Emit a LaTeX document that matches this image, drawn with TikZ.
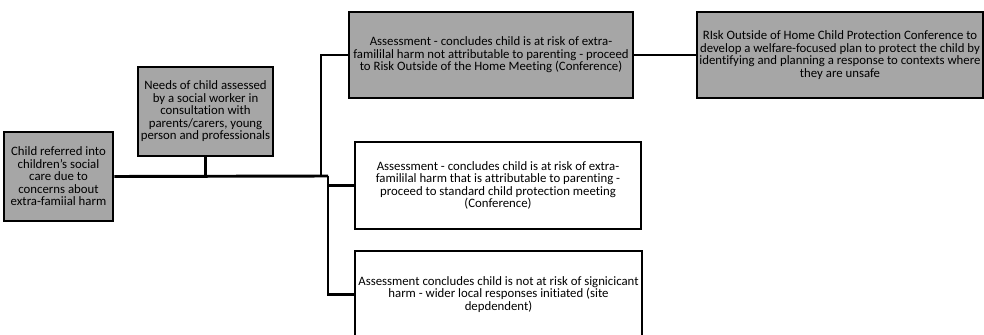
\documentclass[tikz,border=0pt]{standalone}
\usepackage{fontspec}
\setmainfont{Carlito}[Ligatures=NoCommon]
\usepackage{tikz}
\definecolor{boxgray}{RGB}{166,166,166}

\begin{document}
\begin{tikzpicture}[x=0.75pt, y=-0.75pt,
		greybox/.style={draw=black, line width=2.2pt, fill=boxgray, align=center, inner sep=0pt, font=\fontsize{9.6}{9.4}\selectfont},
		whitebox/.style={greybox, fill=white},
		link/.style={line width=1.6pt}]
			%%%%% START %%%%%
			
			\useasboundingbox (0, 0) rectangle (984, 335);
			\fill[white] (0, 0) rectangle (984, 335);
			
			\node[greybox, minimum width=109*0.75pt, minimum height=89*0.75pt] (refer) at (58.5, 176.5) {Child referred into\\children's social\\care due to\\concerns about\\extra-famiial harm};
			\node[greybox, minimum width=135*0.75pt, minimum height=89*0.75pt] (needs) at (205.5, 111.5) {Needs of child assessed\\by a social worker in\\consultation with\\parents/carers, young\\person and professionals};
			
			\node[greybox, minimum width=284*0.75pt, minimum height=86*0.75pt] (outside) at (491, 55) {Assessment - concludes child is at risk of extra-\\famililal harm not attributable to parenting - proceed\\to Risk Outside of the Home Meeting (Conference)};
			\node[greybox, minimum width=286*0.75pt, minimum height=86*0.75pt] (conf) at (840, 55) {RIsk Outside of Home Child Protection Conference to\\develop a welfare-focused plan to protect the child by\\identifying and planning a response to contexts where\\they are unsafe};
			
			\node[whitebox, minimum width=286*0.75pt, minimum height=87*0.75pt] (parent) at (498, 185.5) {Assessment - concludes child is at risk of extra-\\famililal harm that is attributable to parenting -\\proceed to standard child protection meeting\\(Conference)};
			\node[whitebox, minimum width=287*0.75pt, minimum height=87*0.75pt] (notrisk) at (498.5, 294.5) {Assessment concludes child is not at risk of signicicant\\harm - wider local responses initiated (site\\depdendent)};
			
			\coordinate (split) at (321, 176);
			\coordinate (drop) at (328, 176);
			
			\draw[link, line width=2.2pt] (refer.east) -- (drop);
			\draw[link] (needs.south) -- (needs.south |- split);
			\draw[link] (split) |- (outside.west);
			\draw[link] (outside.east) -- (conf.west);
			\draw[link] (drop) |- (parent.west);
			\draw[link] (drop) |- (notrisk.west);
			
			%%%%% END %%%%%
		\end{tikzpicture}
\end{document}
